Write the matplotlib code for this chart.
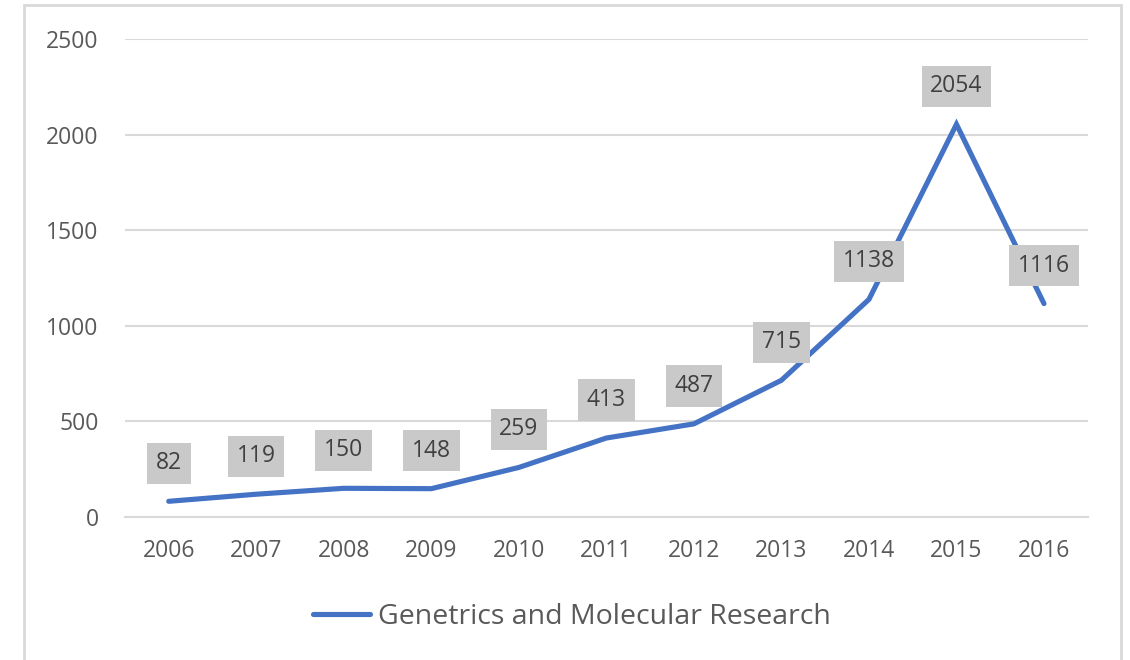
import matplotlib
matplotlib.use("Agg")
import matplotlib.pyplot as plt
from matplotlib.patches import Rectangle

plt.rcParams['font.family'] = ['Open Sans', 'DejaVu Sans']

years = ['2006', '2007', '2008', '2009', '2010', '2011', '2012', '2013', '2014', '2015', '2016']
counts = [82, 119, 150, 148, 259, 413, 487, 715, 1138, 2054, 1116]
series_name = 'Genetrics and Molecular Research'
yticks = [0, 500, 1000, 1500, 2000, 2500]

blue = '#4472C4'
grid_gray = '#D9D9D9'

fig = plt.figure(figsize=(11.3, 6.6), dpi=100)
ax = fig.add_axes([0.1106, 0.2167, 0.852, 0.7242])

# chart area border (bottom edge is cut off in the reference)
fig.patches.append(Rectangle((24 / 1130, -0.05), (1121 - 24) / 1130, 1.05 - 5 / 660,
                             transform=fig.transFigure, fill=False,
                             edgecolor=grid_gray, lw=2, clip_on=False))

x = list(range(len(years)))
line, = ax.plot(x, counts, color=blue, lw=3.7, solid_capstyle='round',
                solid_joinstyle='miter', label=series_name, zorder=3)

for xi, v in zip(x, counts):
    ax.annotate(str(v), (xi, v), xytext=(0, 38), textcoords='offset pixels',
                ha='center', va='center', fontsize=16.5, color='#404040',
                bbox=dict(boxstyle='square,pad=0.38', fc='#C9C9C9', ec='none'),
                zorder=4)

ax.set_xlim(-0.5, len(years) - 0.5)
ax.set_ylim(0, 2500)
ax.set_yticks(yticks)
ax.set_xticks(x)
ax.set_xticklabels(years)
ax.yaxis.grid(True, color=grid_gray, lw=1.5)
ax.set_axisbelow(True)
for s in ['top', 'right', 'left']:
    ax.spines[s].set_visible(False)
ax.spines['bottom'].set_color(grid_gray)
ax.spines['bottom'].set_linewidth(1.5)
ax.tick_params(axis='both', length=0, labelsize=16.5, labelcolor='#595959')
ax.tick_params(axis='y', pad=19)
ax.tick_params(axis='x', pad=16)

fig.legend(handles=[line], loc='center', bbox_to_anchor=(572 / 1130, 1 - 617 / 660),
           frameon=False, fontsize=20.5, handlelength=2.0, handletextpad=0.3,
           labelcolor='#595959')

fig.savefig('out.png', dpi=100)
